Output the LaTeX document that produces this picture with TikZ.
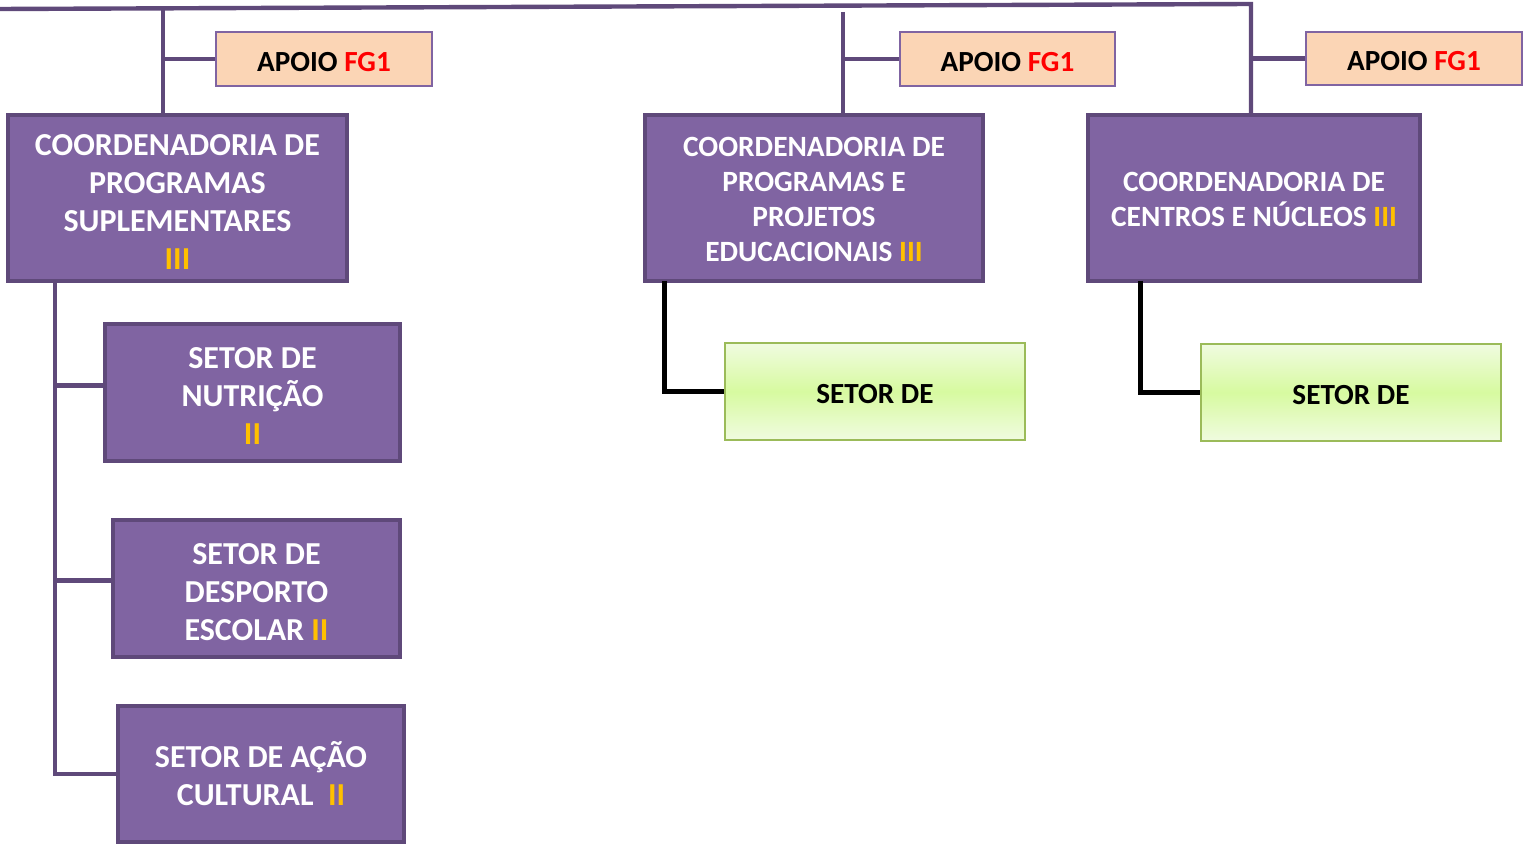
\documentclass[tikz,border=0pt]{standalone}
\usepackage{fontspec}
\setmainfont{Carlito}
\definecolor{pfill}{HTML}{8064A2}
\definecolor{pline}{HTML}{5F497A}
\definecolor{peach}{HTML}{FBD5B5}
\definecolor{gline}{HTML}{9BBB59}
\definecolor{gmid}{HTML}{D7FAA0}
\definecolor{glight}{HTML}{F0FBE0}
\definecolor{roman}{HTML}{FFC000}
\definecolor{fgred}{HTML}{FF0000}
\tikzset{
  coordbox/.style={draw=pline, line width=2pt, fill=pfill, text=white, align=center, inner sep=0pt, font=\bfseries},
  apoiobox/.style={draw=pfill, line width=1pt, fill=peach, text=black, align=center, minimum width=108pt, minimum height=27pt, inner sep=0pt, font=\bfseries\fontsize{14.6}{17}\selectfont},
  greenbox/.style={draw=gline, line width=1pt, top color=glight, bottom color=glight, middle color=gmid, text=black, align=center, minimum width=150pt, minimum height=48.5pt, inner sep=0pt, font=\bfseries\fontsize{14.6}{17}\selectfont},
  pconn/.style={draw=pline, line width=2.2pt},
  bconn/.style={draw=black, line width=2.5pt}
}
\newcommand{\rn}[1]{\textcolor{roman}{#1}}
\newcommand{\dn}[1]{\rule{0pt}{#1}}
\begin{document}
\begin{tikzpicture}[x=0.5pt,y=-0.5pt]
\useasboundingbox (0,0) rectangle (1529,844);
% boxes
\node[apoiobox] (ap1) at (324,59) {\dn{12.4pt}APOIO \textcolor{fgred}{FG1}};
\node[apoiobox, minimum width=107.5pt] (ap2) at (1007.5,59) {\dn{12.4pt}APOIO \textcolor{fgred}{FG1}};
\node[apoiobox, minimum height=26.5pt] (ap3) at (1414,58.5) {\dn{12.4pt}APOIO \textcolor{fgred}{FG1}};
\node[coordbox, minimum width=169.5pt, minimum height=83pt, font=\bfseries\fontsize{16}{19}\selectfont] (c1) at (177.5,198) {\dn{14.3pt}COORDENADORIA DE\\PROGRAMAS\\SUPLEMENTARES\\\rn{III}};
\node[coordbox, minimum width=169pt, minimum height=83pt, font=\bfseries\fontsize{14.7}{17.5}\selectfont] (c2) at (814,198) {\dn{11.5pt}COORDENADORIA DE\\PROGRAMAS E\\PROJETOS\\EDUCACIONAIS \rn{III}};
\node[coordbox, minimum width=166pt, minimum height=83pt, font=\bfseries\fontsize{14.7}{17.5}\selectfont] (c3) at (1254,198) {\dn{11.5pt}COORDENADORIA DE\\CENTROS E NÚCLEOS \rn{III}};
\node[coordbox, minimum width=147.5pt, minimum height=68.5pt, font=\bfseries\fontsize{16}{19}\selectfont] (nut) at (252.5,392.5) {\dn{14.3pt}SETOR DE\\NUTRIÇÃO\\\rn{II}};
\node[coordbox, minimum width=143.5pt, minimum height=68.5pt, font=\bfseries\fontsize{16}{19}\selectfont] (des) at (256.5,588.5) {\dn{14.3pt}SETOR DE\\DESPORTO\\ESCOLAR \rn{II}};
\node[coordbox, minimum width=143pt, minimum height=68pt, font=\bfseries\fontsize{16}{19}\selectfont] (aca) at (261,774) {\dn{12.3pt}SETOR DE AÇÃO\\CULTURAL\ \ \rn{II}};
\node[greenbox] (g1) at (875,391.5) {\dn{12.4pt}SETOR DE};
\node[greenbox] (g2) at (1351,392.5) {\dn{12.4pt}SETOR DE};
% top line and junctions
\coordinate (tl) at (0,9);
\coordinate (tr) at (1251,4);
\coordinate (j1) at (163,9);
\coordinate (j2) at (843,12);
\coordinate (s1) at (55,281);
\coordinate (k1) at (664,281);
\coordinate (k2) at (1140,281);
\coordinate (nb) at ([yshift=3.5pt]nut.west);
\coordinate (db) at ([yshift=4pt]des.west);
\draw[pconn] (tl) -- (tr) -- (tr |- c3.north);
\draw[pconn] (tr |- ap3.west) -- (ap3.west);
\draw[pconn] (j1) -- (j1 |- c1.north);
\draw[pconn] (j1 |- ap1.west) -- (ap1.west);
\draw[pconn] (j2) -- (j2 |- c2.north);
\draw[pconn] (j2 |- ap2.west) -- (ap2.west);
\draw[pconn] (s1) -- (s1 |- aca.west) -- (aca.west);
\draw[pconn] (s1 |- nb) -- (nb);
\draw[pconn] (s1 |- db) -- (db);
\draw[bconn] (k1) |- (g1.west);
\draw[bconn] (k2) |- (g2.west);
\end{tikzpicture}
\end{document}
